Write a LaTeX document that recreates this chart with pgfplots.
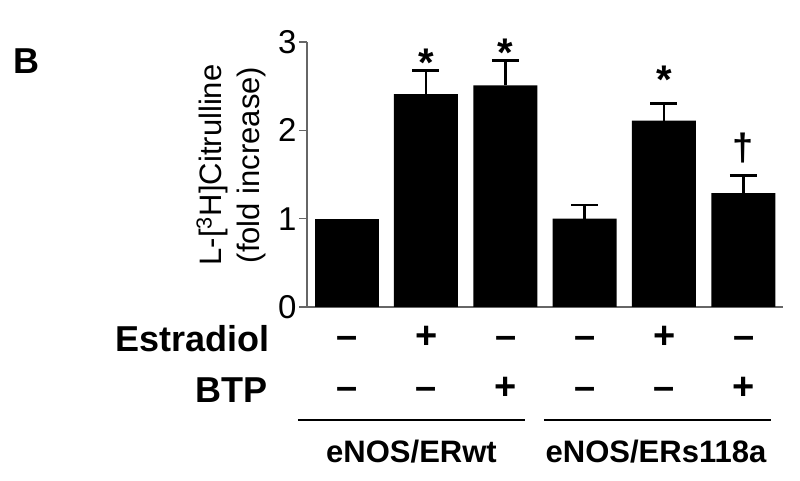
\documentclass[border=0pt]{standalone}
\usepackage{fontspec}
\setmainfont{Liberation Sans}
\usepackage{pgfplots}
\pgfplotsset{compat=1.18}

\begin{document}
\begin{tikzpicture}
\useasboundingbox (-153.5pt,-87pt) rectangle (246.5pt,153.5pt);
\begin{axis}[
  at={(0pt,0pt)}, anchor=south west,
  scale only axis, width=238pt, height=132.5pt,
  xmin=-0.5, xmax=5.5, ymin=0, ymax=3,
  axis x line*=bottom, axis y line*=left,
  axis line style={black!60, line width=0.8pt},
  xtick=\empty, ytick={0,1,2,3},
  tick align=outside, major tick length=4pt,
  tick style={black!60, line width=0.8pt},
  yticklabel style={font=\fontsize{16.5}{18}\selectfont, inner sep=1pt},
  /pgf/number format/assume math mode=true,
  clip=false,
]
% control bar without error bar
\addplot[ybar, bar width=32pt, bar shift=0pt, fill=black, draw=none]
  coordinates {(0,1.00)};
\addplot[ybar, bar width=32pt, bar shift=0pt, fill=black, draw=none,
  error bars/.cd, y dir=plus, y explicit,
  error bar style={line width=1.4pt, black},
  error mark options={rotate=90, mark size=6.75pt, line width=1.4pt, black}]
  coordinates {
    (1,2.41) +- (0,0.27)
    (2,2.51) +- (0,0.28)
    (3,1.00) +- (0,0.155)
    (4,2.11) +- (0,0.19)
    (5,1.29) +- (0,0.20)
  };
\node[anchor=base, inner sep=0, font=\bfseries\fontsize{20}{22}\selectfont] at (axis cs:1,2.61) {*};
\node[anchor=base, inner sep=0, font=\bfseries\fontsize{20}{22}\selectfont] at (axis cs:2,2.72) {*};
\node[anchor=base, inner sep=0, font=\bfseries\fontsize{20}{22}\selectfont] at (axis cs:4,2.42) {*};
\node[anchor=south, inner sep=0, font=\bfseries\fontsize{19}{20}\selectfont] at (axis cs:5,1.63) {†};
\end{axis}

\node[anchor=base west, inner sep=0, font=\bfseries\fontsize{18}{18}\selectfont] at (-147pt,116.5pt) {B};

\node[rotate=90, anchor=base, inner sep=0, font=\fontsize{15.5}{18}\selectfont] at (-42.5pt,71pt) {L-[\textsuperscript{3}H]Citrulline};
\node[rotate=90, anchor=base, inner sep=0, font=\fontsize{15.5}{18}\selectfont] at (-23.5pt,71pt) {(fold increase)};

\node[anchor=base east, inner sep=0, font=\bfseries\fontsize{18}{20}\selectfont] at (-18.5pt,-22.5pt) {Estradiol};
\node[anchor=base east, inner sep=0, font=\bfseries\fontsize{18}{20}\selectfont] at (-19.5pt,-48pt) {BTP};

\foreach \i/\e/\b in {0/--/--, 1/+/--, 2/--/+, 3/--/--, 4/+/--, 5/--/+} {
  \node[anchor=base, inner sep=0, font=\bfseries\fontsize{19}{20}\selectfont] at (20pt+39.667pt*\i,-21pt) {\e};
  \node[anchor=base, inner sep=0, font=\bfseries\fontsize{19}{20}\selectfont] at (20pt+39.667pt*\i,-46.5pt) {\b};
}

\draw[line width=1pt] (-4.5pt,-56.5pt) -- (109pt,-56.5pt);
\draw[line width=1pt] (118.5pt,-56.5pt) -- (232pt,-56.5pt);

\node[anchor=base, inner sep=0, font=\bfseries\fontsize{15.5}{18}\selectfont] at (52.25pt,-78pt) {eNOS/ERwt};
\node[anchor=base, inner sep=0, font=\bfseries\fontsize{15.5}{18}\selectfont] at (174.5pt,-78pt) {eNOS/ERs118a};
\end{tikzpicture}
\end{document}
